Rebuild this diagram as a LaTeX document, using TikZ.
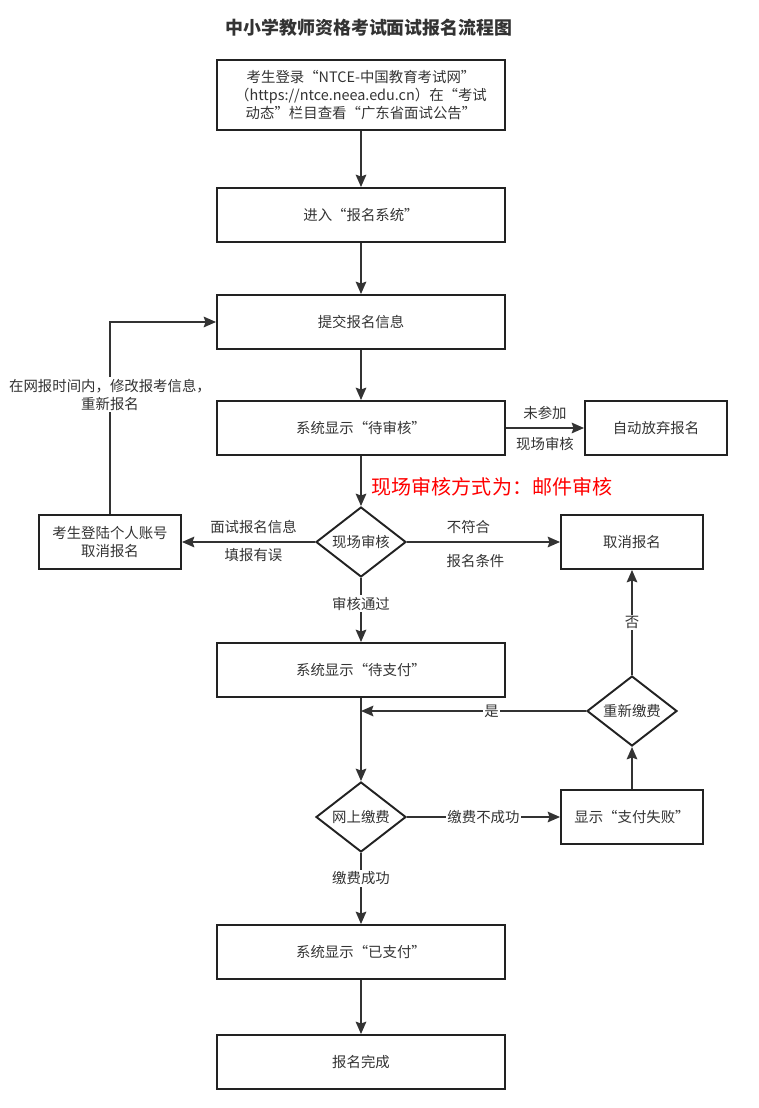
\documentclass[tikz,border=0pt]{standalone}
\usepackage{fontspec}
\setmainfont{Noto Sans CJK SC}
\usetikzlibrary{shapes.geometric,arrows.meta}
\definecolor{boxline}{HTML}{222222}
\definecolor{edge}{HTML}{333333}
\definecolor{txt}{HTML}{333333}
\newcommand{\bodyfont}{\fontsize{8.2}{10.3}\selectfont}
\tikzset{
  box/.style={draw=boxline, line width=1.1pt, minimum width=5.76cm,
    minimum height=1.08cm, align=center, text=txt, font=\bodyfont,
    inner sep=1pt},
  smallbox/.style={box, minimum width=2.84cm},
  decide/.style={diamond, draw=boxline, line width=1.1pt, aspect=1.3,
    minimum width=1.8cm, minimum height=1.4cm, inner sep=0pt, text=txt,
    font=\bodyfont},
  link/.style={draw=edge, line width=1.1pt,
    -{Stealth[length=7pt, width=6pt, inset=1pt]}},
  tag/.style={text=txt, font=\bodyfont, inner sep=1pt, align=center},
  ontag/.style={tag, fill=white},
}
\begin{document}
\begin{tikzpicture}[x=0.02cm, y=-0.02cm]
  \useasboundingbox (0,0) rectangle (758,1108);
  % title and note
  \node[font=\fontsize{10.2}{12}\selectfont\bfseries, text=txt] (title) at (369,28)
  {中小学教师资格考试面试报名流程图};
  \node[font=\fontsize{11.4}{13}\selectfont, text=red] (note) at (492,487)
  {现场审核方式为：邮件审核};
  % main column
  \node[box, minimum height=1.4cm] (login) at (361,95)
  {考生登录“NTCE-中国教育考试网”\\（https://ntce.neea.edu.cn）在“考试\\动态”栏目查看“广东省面试公告”};
  \node[box] (enter) at (361,215) {进入“报名系统”};
  \node[box] (submit) at (361,322) {提交报名信息};
  \node[box] (pending) at (361,428) {系统显示“待审核”};
  \node[decide] (check) at (361,542) {现场审核};
  \node[box] (topay) at (361,670) {系统显示“待支付”};
  \node[decide] (pay) at (361,817) {网上缴费};
  \node[box] (paid) at (361,952) {系统显示“已支付”};
  \node[box] (done) at (361,1062) {报名完成};
  % side boxes
  \node[smallbox] (giveup) at (656,428) {自动放弃报名};
  \node[smallbox] (cancelown) at (110,542) {考生登陆个人账号\\取消报名};
  \node[smallbox] (cancel) at (632,542) {取消报名};
  \node[decide] (repay) at (632,711) {重新缴费};
  \node[smallbox] (fail) at (632,817) {显示“支付失败”};
  \coordinate (join) at (361,711);
  % draw main links
  \draw[link] (login) -- (enter);
  \draw[link] (enter) -- (submit);
  \draw[link] (submit) -- (pending);
  \draw[link] (pending) -- (check);
  \draw[link] (check) -- (topay) node[ontag, pos=0.4] {审核通过};
  \draw[link] (topay) -- (pay);
  \draw[link] (pay) -- (paid) node[ontag, pos=0.36] {缴费成功};
  \draw[link] (paid) -- (done);
  % draw side links
  \draw[link] (pending) -- (giveup)
    node[tag, midway, yshift=0.3cm] {未参加}
    node[tag, midway, yshift=-0.32cm] {现场审核};
  \draw[link] (check) -- (cancelown)
    node[tag, midway, xshift=0.1cm, yshift=0.3cm] {面试报名信息}
    node[tag, midway, xshift=0.1cm, yshift=-0.26cm] {填报有误};
  \draw[link] (check) -- (cancel)
    node[tag, midway, xshift=-0.3cm, yshift=0.3cm] {不符合}
    node[tag, midway, xshift=-0.16cm, yshift=-0.38cm] {报名条件};
  \draw[link] (cancelown) |- (submit)
    node[ontag, pos=0.31] {在网报时间内，修改报考信息，\\重新报名};
  % draw payment loop
  \draw[link] (pay) -- (fail) node[ontag, midway] {缴费不成功};
  \draw[link] (fail) -- (repay);
  \draw[link] (repay) -- (join) node[ontag, pos=0.42] {是};
  \draw[link] (repay) -- (cancel) node[ontag, midway] {否};
\end{tikzpicture}
\end{document}
